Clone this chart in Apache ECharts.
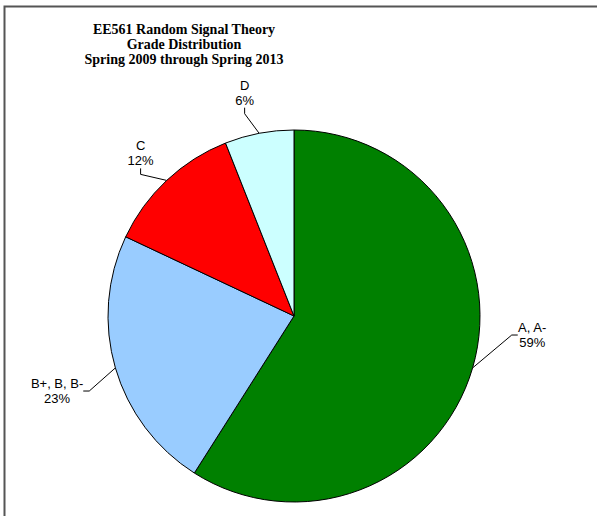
<!DOCTYPE html>
<html>
<head>
<meta charset="utf-8">
<script src="https://cdn.jsdelivr.net/npm/echarts@6/dist/echarts.min.js"></script>
<style>
  html, body { margin: 0; padding: 0; background: #fff; }
  #chart { width: 597px; height: 516px; }
</style>
</head>
<body>
<div id="chart"></div>
<script>
var grades = ['A, A-', 'B+, B, B-', 'C', 'D'];
var shares = [59, 23, 12, 6];
var colors = ['#008000', '#99ccff', '#ff0000', '#ccffff'];
// small label nudges (px) away from the default outside placement
var labelNudge = [[13, -39], [0, 17], [13, -11], [10, -19]];

var chart = echarts.init(document.getElementById('chart'), null, { renderer: 'svg' });

chart.setOption({
  animation: false,
  title: {
    text: 'EE561 Random Signal Theory\nGrade Distribution\nSpring 2009 through Spring 2013',
    left: 179,
    top: 17,
    textAlign: 'center',
    textStyle: {
      fontFamily: 'Liberation Serif',
      fontWeight: 'bold',
      fontSize: 14,
      lineHeight: 15,
      color: '#000'
    }
  },
  graphic: [{
    type: 'rect',
    shape: { x: 4.5, y: 6.5, width: 800, height: 800 },
    style: { fill: 'none', stroke: '#555', lineWidth: 2 },
    silent: true
  }],
  series: [{
    type: 'pie',
    center: [294, 316],
    radius: [0, 186],
    startAngle: 90,
    clockwise: true,
    data: grades.map(function(g, i) {
      return { name: g, value: shares[i], itemStyle: { color: colors[i] } };
    }),
    itemStyle: { borderColor: '#000', borderWidth: 1 },
    label: {
      formatter: function(p) { return p.name + '\n' + p.value + '%'; },
      fontFamily: 'Liberation Sans',
      fontSize: 13,
      lineHeight: 15,
      color: '#000'
    },
    labelLine: {
      length: 22,
      length2: 6,
      lineStyle: { color: '#000', width: 1 }
    },
    labelLayout: function(p) {
      var r = p.labelRect;
      var n = labelNudge[p.dataIndex];
      return {
        x: r.x + r.width / 2 + n[0],
        y: r.y + r.height / 2 + n[1],
        align: 'center',
        verticalAlign: 'middle'
      };
    },
    emphasis: { disabled: true }
  }]
});
</script>
</body>
</html>
